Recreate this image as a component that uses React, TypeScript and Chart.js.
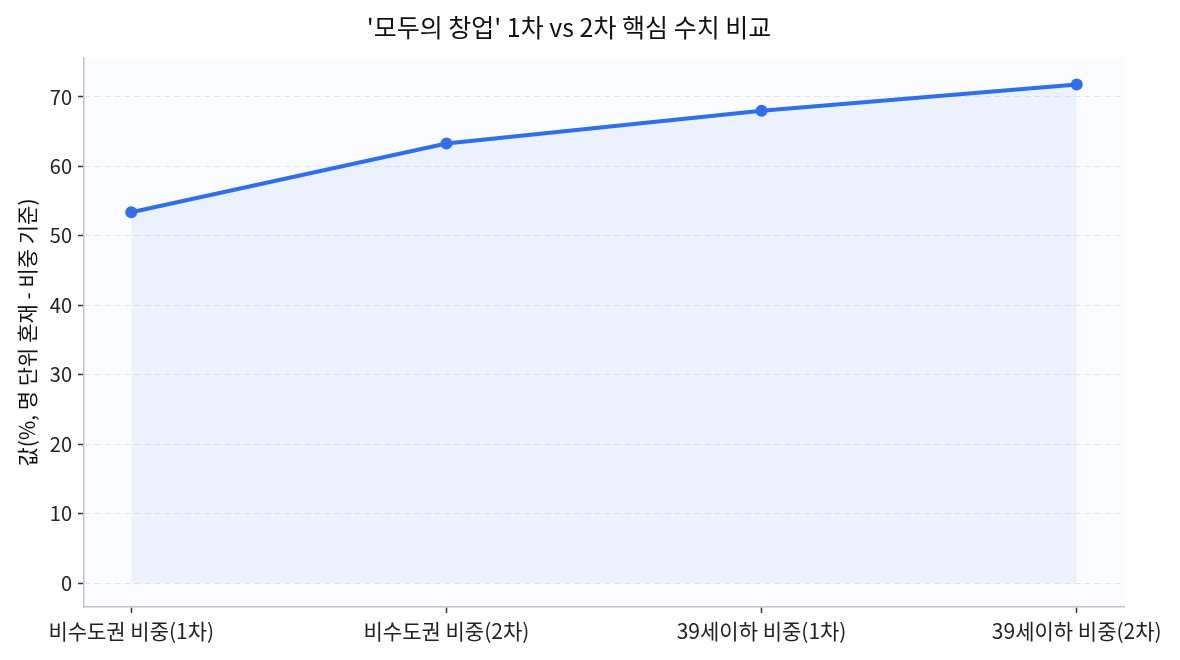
import { useEffect, useRef } from "react";
import { Chart, registerables } from "chart.js";

Chart.register(...registerables);

const categories = ["비수도권 비중(1차)", "비수도권 비중(2차)", "39세이하 비중(1차)", "39세이하 비중(2차)"];
const values = [53.4, 63.3, 68.0, 71.8];
const yTicks = [0, 10, 20, 30, 40, 50, 60, 70];

const FONT = "'Noto Sans CJK KR', 'Noto Sans', sans-serif";
const LINE = "#2F6FEB";

const plotBg = {
  id: "plotBg",
  beforeDraw(chart: Chart) {
    const { ctx, chartArea } = chart;
    ctx.save();
    ctx.fillStyle = "#FBFCFF";
    ctx.fillRect(chartArea.left, chartArea.top, chartArea.right - chartArea.left, chartArea.bottom - chartArea.top);
    ctx.restore();
  },
};

export default function App() {
  const canvasRef = useRef<HTMLCanvasElement>(null);
  const chartRef = useRef<Chart | null>(null);

  useEffect(() => {
    document.body.style.margin = "0";
    if (!canvasRef.current) return;
    chartRef.current?.destroy();
    chartRef.current = new Chart(canvasRef.current, {
      type: "line",
      data: {
        datasets: [
          {
            data: values.map((v, i) => ({ x: i, y: v })),
            borderColor: LINE,
            borderWidth: 4,
            pointRadius: 6,
            pointBackgroundColor: LINE,
            pointBorderColor: LINE,
            pointBorderWidth: 0,
            fill: "origin",
            backgroundColor: "rgba(47,111,235,0.08)",
            tension: 0,
          },
        ],
      },
      options: {
        animation: false,
        responsive: false,
        devicePixelRatio: 1,
        layout: { padding: { top: 0, left: 14, right: 56, bottom: 0 } },
        plugins: {
          legend: { display: false },
          tooltip: { enabled: false },
          title: {
            display: true,
            text: "'모두의 창업' 1차 vs 2차 핵심 수치 비교",
            color: "#111",
            font: { family: FONT, size: 25, weight: "normal" },
            padding: { top: 12, bottom: 16 },
          },
        },
        scales: {
          x: {
            type: "linear",
            min: -0.15,
            max: 3.15,
            afterBuildTicks: (scale: any) => {
              scale.ticks = categories.map((_, i) => ({ value: i }));
            },
            afterFit: (scale: any) => {
              scale.height = 53;
            },
            ticks: {
              callback: (v: any) => categories[v as number] ?? "",
              color: "#222",
              font: { family: FONT, size: 21 },
              padding: 5,
              maxRotation: 0,
              autoSkip: false,
            },
            grid: { drawOnChartArea: false, drawTicks: true, tickLength: 6, tickColor: "#333", tickWidth: 1.5 },
            border: { display: true, color: "#C4C4C4", width: 1.5 },
          },
          y: {
            min: -3.4,
            max: 75.6,
            afterBuildTicks: (scale: any) => {
              scale.ticks = yTicks.map((v) => ({ value: v }));
            },
            afterFit: (scale: any) => {
              scale.width = 70;
            },
            title: {
              display: true,
              text: "값(%, 명 단위 혼재 - 비중 기준)",
              color: "#111",
              font: { family: FONT, size: 21 },
              padding: { top: 0, bottom: 0 },
            },
            ticks: {
              color: "#222",
              font: { family: FONT, size: 20 },
              padding: 6,
            },
            grid: {
              color: "#E3E6EE",
              lineWidth: 1,
              drawTicks: true,
              tickLength: 6,
              tickColor: "#333",
              tickWidth: 1.5,
              tickBorderDash: [],
            },
            border: { display: true, color: "#C4C4C4", width: 1.5, dash: [6, 4] },
          },
        },
      },
      plugins: [plotBg],
    });
    return () => chartRef.current?.destroy();
  }, []);

  return <canvas ref={canvasRef} width={1180} height={660} style={{ display: "block" }} />;
}
